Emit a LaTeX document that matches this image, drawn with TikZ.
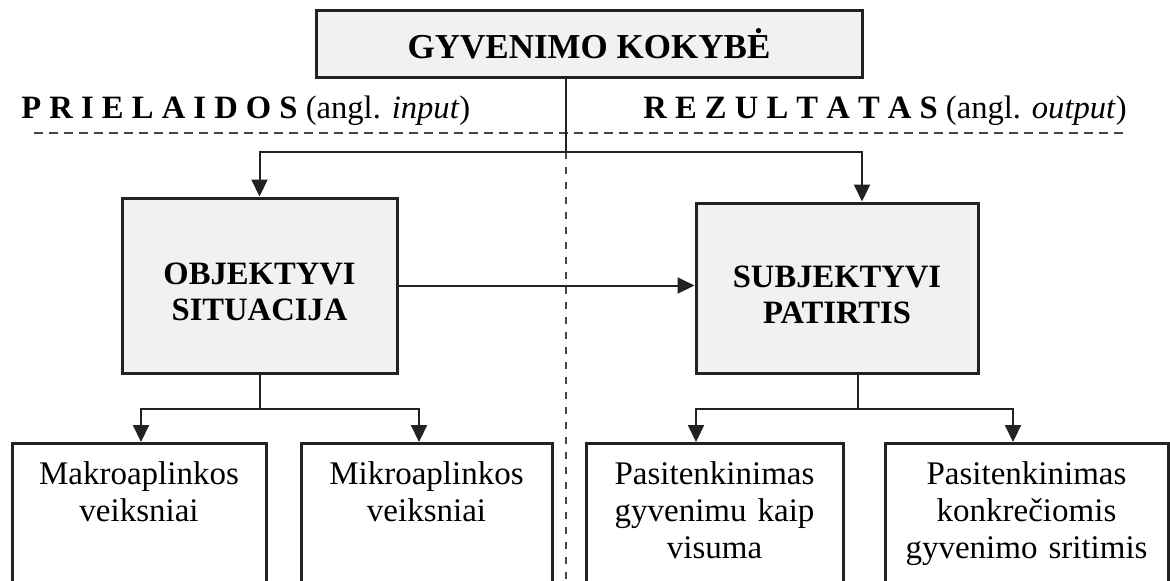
\documentclass[tikz,border=0pt]{standalone}
\usepackage{fontspec}
\setmainfont{Liberation Serif}
\usetikzlibrary{arrows.meta}

\definecolor{boxfill}{RGB}{241,241,241}
\definecolor{linecol}{RGB}{34,34,34}
\definecolor{dashcol}{RGB}{70,70,70}

\begin{document}
\begin{tikzpicture}[x=0.5pt, y=-0.5pt,
    bigbox/.style={draw=linecol, line width=1.5pt, fill=boxfill, align=center, inner sep=0pt,
        font=\bfseries\fontsize{16.3}{18}\selectfont},
    leaf/.style={draw=linecol, line width=1.5pt, text width=#1, anchor=north, align=center,
        inner xsep=0pt, inner ysep=9.5pt, text height=11pt, text depth=60pt,
        font=\fontsize{16.5}{18.5}\selectfont},
    arr/.style={-{Triangle[length=8.5pt,width=8pt]}, line width=1pt, draw=linecol},
    link/.style={line width=1pt, draw=linecol}]
    \useasboundingbox (0,0) rectangle (1170,580);

    % Top box
    \node[bigbox, font=\bfseries\fontsize{17.5}{20}\selectfont, minimum width=273pt, minimum height=33.5pt]
        (kokybe) at (589,43.5) {GYVENIMO KOKYBĖ};

    % Input / output labels
    \node[anchor=base west, inner sep=0pt, font=\fontsize{16.3}{18.5}\selectfont]
        (prielaidos) at (21,118) {\textbf{P R I E L A I D O S} (angl. \textit{input})};
    \node[anchor=base west, inner sep=0pt, font=\fontsize{16.3}{18.5}\selectfont]
        (rezultatas) at (643,118) {\textbf{R E Z U L T A T A S} (angl. \textit{output})};
    \draw[dashcol, line width=1pt, dash pattern=on 4.5pt off 3pt] (34,133) -- (1128,133);

    % Main boxes
    \node[bigbox, minimum width=137.5pt, minimum height=87.5pt, text height=38pt, text depth=3pt]
        (objektyvi) at (259.5,285.5) {OBJEKTYVI\\SITUACIJA};
    \node[bigbox, minimum width=141pt, minimum height=85pt, text height=38pt, text depth=3pt]
        (subjektyvi) at (837,288) {SUBJEKTYVI\\PATIRTIS};

    % Bottom boxes
    \node[leaf=127pt] (makro) at (139,442) {Makroaplinkos\\veiksniai};
    \node[leaf=125.5pt] (mikro) at (426.5,442) {Mikroaplinkos\\veiksniai};
    \node[leaf=128.5pt] (visuma) at (714.5,442) {Pasitenkinimas\\gyvenimu kaip\\visuma};
    \node[leaf=141.5pt] (sritys) at (1026.5,442) {Pasitenkinimas\\konkrečiomis\\gyvenimo sritimis};

    % Splitting from the top box
    \coordinate (split) at (566,152);
    \draw[dashcol, line width=1pt, dash pattern=on 3.5pt off 4pt] (split) -- (566,600);
    \draw[link] (kokybe.south -| split) -- (split);
    \draw[arr] (split) -| (objektyvi.north);
    \draw[arr] (split) -| ([xshift=12.5pt]subjektyvi.north);

    % Objective -> subjective
    \draw[arr] (objektyvi.east) -- (objektyvi.east -| subjektyvi.west);

    % Lower forks
    \draw[link] (objektyvi.south) -- ++(0,34) coordinate (ofork);
    \draw[arr] (ofork) -| ([xshift=1pt]makro.north);
    \draw[arr] (ofork) -| ([xshift=-3.75pt]mikro.north);
    \draw[link] ([xshift=10.5pt]subjektyvi.south) -- ++(0,34) coordinate (sfork);
    \draw[arr] (sfork) -| ([xshift=-9.25pt]visuma.north);
    \draw[arr] (sfork) -| ([xshift=-6.75pt]sritys.north);
\end{tikzpicture}
\end{document}
